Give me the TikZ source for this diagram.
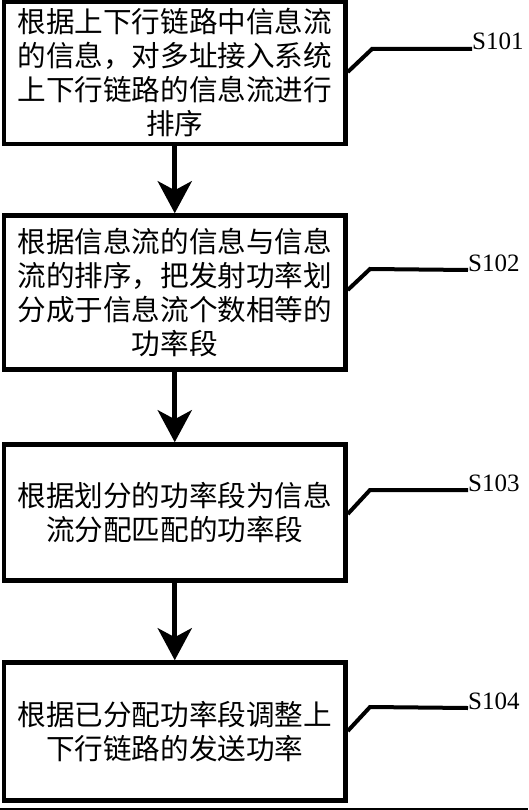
\documentclass[tikz,border=0pt]{standalone}
\usepackage{fontspec}
\setmainfont{Liberation Serif}
\newfontfamily\cjk{Noto Sans CJK SC}
\usetikzlibrary{arrows.meta}
\begin{document}
\begin{tikzpicture}[x=1pt,y=-1pt,
  stepbox/.style={draw=black,line width=4.5pt,rectangle,inner sep=0pt,
    minimum width=341.5pt,align=center,
    font=\cjk\fontsize{28.6}{34}\selectfont},
  flowarrow/.style={line width=5pt,-{Stealth[length=32pt,width=34pt,inset=9pt]}},
  leader/.style={line width=4pt},
  steplabel/.style={inner sep=0pt,font=\fontsize{25}{25}\selectfont}]
\useasboundingbox (0,0) rectangle (528,810);
\node[stepbox,minimum height=142.5pt] (b1) at (174.75,72.75)
  {根据上下行链路中信息流\\的信息，对多址接入系统\\上下行链路的信息流进行\\排序};
\node[stepbox,minimum height=154pt] (b2) at (174.75,292.5)
  {根据信息流的信息与信息\\流的排序，把发射功率划\\分成于信息流个数相等的\\功率段};
\node[stepbox,minimum height=136pt] (b3) at (174.75,512.5)
  {根据划分的功率段为信息\\流分配匹配的功率段};
\node[stepbox,minimum height=138pt] (b4) at (174.75,731.5)
  {根据已分配功率段调整上\\下行链路的发送功率};
\draw[flowarrow] (b1.south) -- (b2.north);
\draw[flowarrow] (b2.south) -- (b3.north);
\draw[flowarrow] (b3.south) -- (b4.north);
\node[steplabel,anchor=base west] (l1) at (472,50) {S101};
\node[steplabel,anchor=base west] (l2) at (468,271) {S102};
\node[steplabel,anchor=base west] (l3) at (468,491) {S103};
\node[steplabel,anchor=base west] (l4) at (468,709) {S104};
\draw[leader] (b1.east |- 0,72) -- (372,49) -- ([yshift=1pt]l1.base west);
\draw[leader] (b2.east |- 0,290) -- (370,269) -- ([yshift=1pt]l2.base west);
\draw[leader] (b3.east |- 0,514) -- (370,490) -- ([yshift=1pt]l3.base west);
\draw[leader] (b4.east |- 0,731) -- (370,707) -- ([yshift=1pt]l4.base west);
\coordinate (edgeL) at (0,809);
\coordinate (edgeR) at (528,809);
\draw[line width=1.2pt] (edgeL) -- (edgeR);
\end{tikzpicture}
\end{document}
